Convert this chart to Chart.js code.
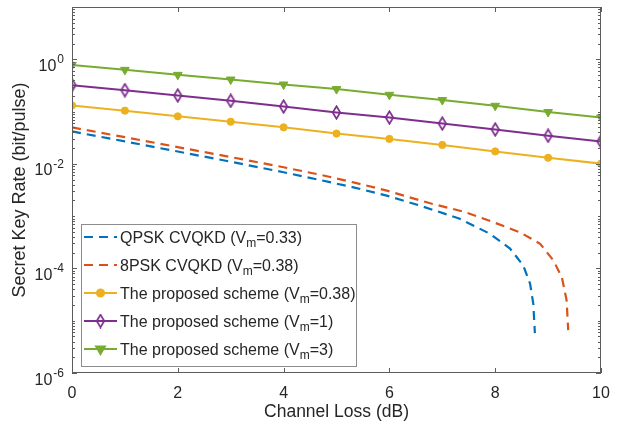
<!DOCTYPE html>
<html>
<head>
<meta charset="utf-8">
<script src="https://cdn.jsdelivr.net/npm/chart.js@4.4.0/dist/chart.umd.min.js"></script>
<style>
  html, body { margin: 0; padding: 0; background: #fff; }
  #wrap { width: 620px; height: 423px; }
</style>
</head>
<body>
<div id="wrap"><canvas id="skr-chart" width="620" height="423"></canvas></div>
<script>
// axis ticks
const lossTicks = [0, 2, 4, 6, 8, 10];
const yExponents = [-6, -4, -2, 0];

// proposed scheme, sampled every 1 dB
const lossGrid = [0, 1, 2, 3, 4, 5, 6, 7, 8, 9, 10];
const proposed038 = [0.131, 0.104, 0.081, 0.064, 0.050, 0.038, 0.030, 0.023, 0.0173, 0.0131, 0.0101];
const proposed1 = [0.32, 0.257, 0.203, 0.161, 0.125, 0.096, 0.077, 0.059, 0.0455, 0.0345, 0.0268];
const proposed3 = [0.78, 0.628, 0.504, 0.410, 0.329, 0.269, 0.209, 0.166, 0.129, 0.098, 0.077];

// PSK baselines (dashed)
const qpskLoss = [0, 1, 2, 3, 4, 4.69, 5.32, 5.95, 6.58, 7.33, 7.90, 8.28, 8.53, 8.66, 8.72, 8.75];
const qpskRate = [0.0417, 0.0269, 0.0172, 0.011, 0.0069, 0.0049, 0.00356, 0.00247, 0.00159, 0.00089, 0.00046, 0.00024, 0.000114, 5.1e-5, 2.1e-5, 5.8e-6];
const psk8Loss = [0, 1, 2, 3, 4, 4.69, 5.32, 5.95, 6.77, 7.40, 7.96, 8.47, 8.85, 9.10, 9.26, 9.35, 9.38];
const psk8Rate = [0.0497, 0.0324, 0.0209, 0.0135, 0.0086, 0.0062, 0.00443, 0.00308, 0.00176, 0.00122, 0.00077, 0.00049, 0.000296, 0.000142, 6.8e-5, 2.45e-5, 6.6e-6];

// legend text split around the subscript
const legendParts = [
  ['QPSK CVQKD (V', 'm', '=0.33)'],
  ['8PSK CVQKD (V', 'm', '=0.38)'],
  ['The proposed scheme (V', 'm', '=0.38)'],
  ['The proposed scheme (V', 'm', '=1)'],
  ['The proposed scheme (V', 'm', '=3)']
];

const FONT = 'Arial, "Liberation Sans", Helvetica, sans-serif';
const TXT = '#262626';

function pts(xs, ys) {
  return xs.map((v, i) => ({ x: v, y: ys[i] }));
}

// tall hollow diamond like matlab's 'd' marker
function makeDiamond(color) {
  const c = document.createElement('canvas');
  c.width = 11; c.height = 15;
  const g = c.getContext('2d');
  g.strokeStyle = color;
  g.lineWidth = 1.7;
  g.beginPath();
  g.moveTo(5.5, 1.2);
  g.lineTo(9.3, 7.5);
  g.lineTo(5.5, 13.8);
  g.lineTo(1.7, 7.5);
  g.closePath();
  g.stroke();
  return c;
}

const axesPlugin = {
  id: 'axesPlugin',
  afterDatasetsDraw(chart) {
    const { ctx, chartArea: a, scales: { x, y } } = chart;
    ctx.save();

    // box
    ctx.strokeStyle = '#5c5c5c';
    ctx.lineWidth = 1;
    ctx.strokeRect(a.left + 0.5, a.top + 0.5, a.right - a.left - 1, a.bottom - a.top - 1);

    // x ticks, inward, bottom and top
    ctx.beginPath();
    lossTicks.forEach(v => {
      const px = Math.round(x.getPixelForValue(v)) + 0.5;
      ctx.moveTo(px, a.bottom); ctx.lineTo(px, a.bottom - 5);
      ctx.moveTo(px, a.top); ctx.lineTo(px, a.top + 5);
    });
    // y ticks, major on even decades, minor otherwise
    for (let e = -6; e <= 0; e++) {
      for (let k = 1; k <= 9; k++) {
        const v = k * Math.pow(10, e);
        const py = Math.round(y.getPixelForValue(v)) + 0.5;
        const len = (k === 1 && e % 2 === 0) ? 5 : 3;
        ctx.moveTo(a.left, py); ctx.lineTo(a.left + len, py);
        ctx.moveTo(a.right, py); ctx.lineTo(a.right - len, py);
      }
    }
    ctx.stroke();

    // y tick labels 10^n
    ctx.fillStyle = TXT;
    ctx.textBaseline = 'alphabetic';
    yExponents.forEach(e => {
      const py = y.getPixelForValue(Math.pow(10, e));
      const ex = String(e);
      ctx.font = '12px ' + FONT;
      const ew = ctx.measureText(ex).width;
      ctx.textAlign = 'right';
      ctx.fillText(ex, 64, py + 4);
      ctx.font = '16px ' + FONT;
      ctx.fillText('10', 64 - ew - 1, py + 11.6);
    });

    // legend
    const lx = 81, ly = 224, lw = 275, lh = 142;
    ctx.fillStyle = '#fff';
    ctx.fillRect(lx, ly, lw, lh);
    ctx.strokeStyle = '#8c8c8c';
    ctx.strokeRect(lx + 0.5, ly + 0.5, lw, lh);
    chart.data.datasets.forEach((ds, i) => {
      const cy = 237 + i * 28;
      ctx.strokeStyle = ds.borderColor;
      ctx.lineWidth = ds.borderWidth;
      ctx.setLineDash(ds.borderDash || []);
      ctx.beginPath();
      ctx.moveTo(84, cy); ctx.lineTo(117, cy);
      ctx.stroke();
      ctx.setLineDash([]);
      if (ds.pointRadius > 0) {
        ctx.fillStyle = ds.pointBackgroundColor;
        ctx.strokeStyle = ds.borderColor;
        Chart.helpers.drawPoint(ctx, {
          pointStyle: ds.pointStyle,
          radius: ds.pointRadius,
          rotation: ds.pointRotation || 0,
          borderWidth: 1
        }, 100.5, cy);
      }
      const [a1, sub, a2] = legendParts[i];
      ctx.fillStyle = TXT;
      ctx.textAlign = 'left';
      ctx.font = '16px ' + FONT;
      let tx = 120;
      ctx.fillText(a1, tx, cy + 6);
      tx += ctx.measureText(a1).width;
      ctx.font = '12px ' + FONT;
      ctx.fillText(sub, tx, cy + 10);
      tx += ctx.measureText(sub).width;
      ctx.font = '16px ' + FONT;
      ctx.fillText(a2, tx, cy + 6);
    });
    ctx.restore();
  }
};

const blue = '#0072BD', red = '#D95319', yellow = '#EDB120', purple = '#7E2F8E', green = '#77AC30';

new Chart(document.getElementById('skr-chart'), {
  type: 'line',
  data: {
    datasets: [
      {
        label: 'QPSK CVQKD (Vm=0.33)',
        data: pts(qpskLoss, qpskRate),
        borderColor: blue, borderWidth: 2.2, borderDash: [9, 6],
        pointRadius: 0, tension: 0
      },
      {
        label: '8PSK CVQKD (Vm=0.38)',
        data: pts(psk8Loss, psk8Rate),
        borderColor: red, borderWidth: 2.2, borderDash: [9, 6],
        pointRadius: 0, tension: 0
      },
      {
        label: 'The proposed scheme (Vm=0.38)',
        data: pts(lossGrid, proposed038),
        borderColor: yellow, borderWidth: 2,
        pointStyle: 'circle', pointRadius: 3.6,
        pointBackgroundColor: yellow, pointBorderColor: yellow, pointBorderWidth: 1,
        tension: 0
      },
      {
        label: 'The proposed scheme (Vm=1)',
        data: pts(lossGrid, proposed1),
        borderColor: purple, borderWidth: 2,
        pointStyle: makeDiamond(purple), pointRadius: 5,
        pointBackgroundColor: purple, pointBorderColor: purple,
        tension: 0
      },
      {
        label: 'The proposed scheme (Vm=3)',
        data: pts(lossGrid, proposed3),
        borderColor: green, borderWidth: 2,
        pointStyle: 'triangle', pointRotation: 180, pointRadius: 5,
        pointBackgroundColor: green, pointBorderColor: green, pointBorderWidth: 1,
        tension: 0
      }
    ]
  },
  options: {
    responsive: false,
    devicePixelRatio: 1,
    animation: false,
    events: [],
    layout: { padding: { left: 0, right: 19, top: 6, bottom: 0 } },
    plugins: {
      legend: { display: false },
      tooltip: { enabled: false }
    },
    scales: {
      x: {
        type: 'linear',
        min: 0, max: 10,
        grid: { display: false },
        border: { display: false },
        ticks: { stepSize: 2, padding: 3, color: TXT, font: { family: FONT, size: 16 } },
        title: {
          display: true, text: 'Channel Loss (dB)', color: TXT,
          padding: { top: 0, bottom: 0 },
          font: { family: FONT, size: 17.5 }
        },
        afterFit: s => { s.height = 50; }
      },
      y: {
        type: 'logarithmic',
        min: 1e-6, max: 10,
        grid: { display: false },
        border: { display: false },
        ticks: { display: false },
        title: {
          display: true, text: 'Secret Key Rate (bit/pulse)', color: TXT,
          padding: { top: 9, bottom: 0 },
          font: { family: FONT, size: 18 }
        },
        afterFit: s => { s.width = 72; }
      }
    }
  },
  plugins: [axesPlugin]
});
</script>
</body>
</html>
